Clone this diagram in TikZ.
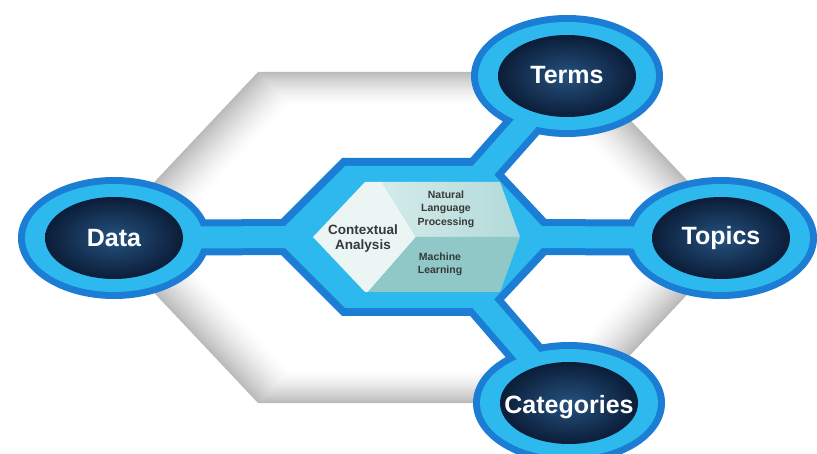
\documentclass[tikz,border=0pt]{standalone}
\usepackage{fontspec}
\setmainfont{Liberation Sans}
\definecolor{ringdark}{HTML}{1C7DD5}
\definecolor{ringcyan}{HTML}{2DB9EE}
\definecolor{navyin}{HTML}{25527F}
\definecolor{navyout}{HTML}{0B1D38}
\definecolor{panelA}{HTML}{EAF5F4}
\definecolor{panelB1}{HTML}{D4EBEA}
\definecolor{panelB2}{HTML}{B2D9D9}
\definecolor{panelC}{HTML}{8FC8C7}
\definecolor{paneltext}{HTML}{383838}
\begin{document}
\begin{tikzpicture}[x=1pt,y=-1pt,
  linkdark/.style={ringdark, line width=36pt},
  linkcyan/.style={ringcyan, line width=22pt},
  bubbletext/.style={text=white, font=\bfseries\fontsize{25}{30}\selectfont, inner sep=0pt},
  paneltxt/.style={text=paneltext, align=center, inner sep=0pt}]
\useasboundingbox (0,0) rectangle (817,454);
\fill[white] (0,0) rectangle (817,454);

% soft grey backdrop hexagon, shaded from the rim inwards
\foreach \i in {0,...,32} {
  \pgfmathsetmacro\s{1-0.0062*\i}
  \pgfmathsetmacro\g{27*(1-\i/32)^1.5}
  \fill[black!\g!white, shift={(421.5,237.5)}, scale=\s]
    (-319.5,0) -- (-163.5,-165.5) -- (163.5,-165.5) -- (319.5,0)
    -- (163.5,165.5) -- (-163.5,165.5) -- cycle;
}

% anchor points
\coordinate (data) at (114,238);
\coordinate (terms) at (567,76);
\coordinate (topics) at (721,238);
\coordinate (categories) at (569,403);
\coordinate (hexL) at (285,237);
\coordinate (hexTR) at (475,180);
\coordinate (hexR) at (540,237);
\coordinate (hexBR) at (475,294);

% dark blue outline layer
\fill[ringdark] (263,237) -- (342,158) -- (489,158) -- (563,237) -- (489,316) -- (342,316) -- cycle;
\draw[linkdark] (data) -- (hexL);
\draw[linkdark] (hexTR) -- (terms);
\draw[linkdark] (hexR) -- (topics);
\draw[linkdark] (hexBR) -- (categories);
\foreach \c in {data,terms,topics,categories}
  \fill[ringdark] (\c) ellipse [x radius=96pt, y radius=61pt];

% cyan layer
\fill[ringcyan] (274,237) -- (345,166) -- (486,166) -- (552,237) -- (486,308) -- (345,308) -- cycle;
\draw[linkcyan] (data) -- (hexL);
\draw[linkcyan] (hexTR) -- (terms);
\draw[linkcyan] (hexR) -- (topics);
\draw[linkcyan] (hexBR) -- (categories);
\foreach \c in {data,terms,topics,categories}
  \fill[ringcyan] (\c) ellipse [x radius=89pt, y radius=54pt];

% navy cores
\foreach \c in {data,terms,topics,categories}
  \shade[inner color=navyin, outer color=navyout] (\c) ellipse [x radius=69pt, y radius=41pt];

\node[bubbletext] (dataText) at (data) {Data};
\node[bubbletext] (termsText) at ([yshift=1pt]terms) {Terms};
\node[bubbletext] (topicsText) at (topics) {Topics};
\node[bubbletext] (categoriesText) at ([yshift=-4pt]categories) {Categories};

% central panel
\fill[panelA] (313,237) -- (365,182) -- (382,182) -- (416,237) -- (368,292) -- (365,292) -- cycle;
\shade[left color=panelB1, right color=panelB2] (382,182) -- (500,182) -- (520,237) -- (416,237) -- cycle;
\fill[panelC] (416,237) -- (520,237) -- (500,292) -- (368,292) -- cycle;

\node[paneltxt, font=\bfseries\fontsize{13.5}{15}\selectfont] (ctx) at (363,239) {Contextual\\Analysis};
\node[paneltxt, font=\bfseries\fontsize{10.5}{13.5}\selectfont] (nlp) at (446,209) {Natural\\Language\\Processing};
\node[paneltxt, font=\bfseries\fontsize{10.5}{13}\selectfont] (ml) at (440,264) {Machine\\Learning};
\end{tikzpicture}
\end{document}
